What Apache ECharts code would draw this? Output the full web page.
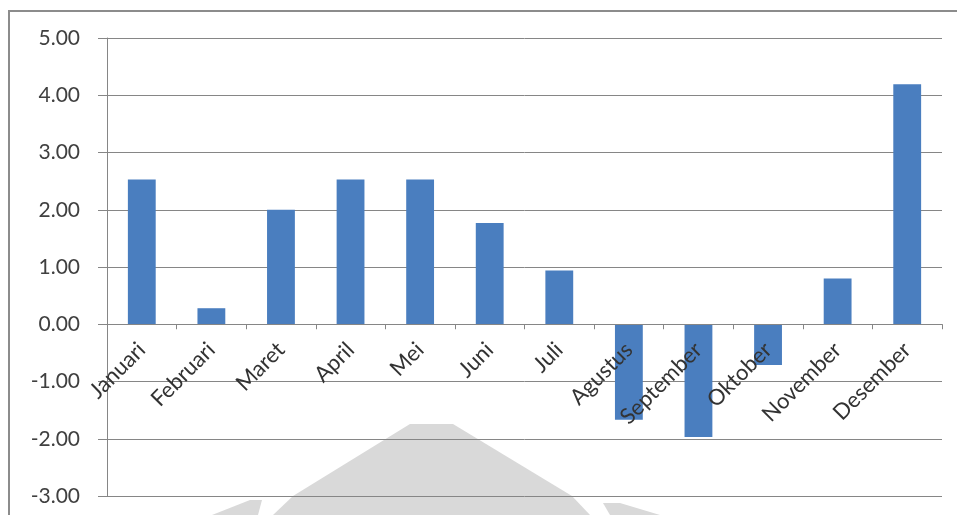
<!DOCTYPE html>
<html>
<head>
<meta charset="utf-8">
<script src="https://cdn.jsdelivr.net/npm/echarts@6/dist/echarts.min.js"></script>
<style>
html,body{margin:0;padding:0;background:#fff;}
#chart{width:957px;height:515px;}
</style>
</head>
<body>
<div id="chart"></div>
<script>
const categories = ['Januari','Februari','Maret','April','Mei','Juni','Juli','Agustus','September','Oktober','November','Desember'];
const values = [2.53, 0.28, 2.00, 2.53, 2.53, 1.77, 0.94, -1.67, -1.97, -0.71, 0.80, 4.19];
const yMin = -3, yMax = 5, yStep = 1;

const GRID_TOP = 38, GRID_BOTTOM = 19, H = 515;
const plotH = H - GRID_TOP - GRID_BOTTOM;
const zeroOffset = plotH * (0 - yMin) / (yMax - yMin);

const chart = echarts.init(document.getElementById('chart'));
chart.setOption({
  animation: false,
  backgroundColor: '#ffffff',
  graphic: [
    { type: 'polygon', z: -10, silent: true,
      shape: { points: [[410,424],[453,424],[572,496],[590,515],[273,515],[293,496]] },
      style: { fill: '#d9d9d9' } },
    { type: 'polygon', z: -10, silent: true,
      shape: { points: [[250,500],[262,500],[258,515],[212,515]] },
      style: { fill: '#d9d9d9' } },
    { type: 'polygon', z: -10, silent: true,
      shape: { points: [[603,503],[620,503],[660,515],[610,515]] },
      style: { fill: '#d9d9d9' } },
    { type: 'rect', z: 100, silent: true,
      shape: { x: 9, y: 11, width: 980, height: 540 },
      style: { fill: 'none', stroke: '#8c8c8c', lineWidth: 2 } }
  ],
  grid: { left: 107, right: 15, top: GRID_TOP, bottom: GRID_BOTTOM, containLabel: false, outerBoundsMode: 'none' },
  xAxis: {
    type: 'category',
    data: categories,
    position: 'bottom',
    offset: -zeroOffset,
    z: 10,
    boundaryGap: true,
    axisLine: { onZero: false, lineStyle: { color: '#868686', width: 1 } },
    axisTick: { show: true, length: 5, alignWithLabel: false, lineStyle: { color: '#868686' } },
    axisLabel: { rotate: 45, margin: 22, fontFamily: 'Lato', fontSize: 22, color: '#333333', interval: 0 },
    splitLine: { show: false }
  },
  yAxis: {
    type: 'value',
    min: yMin, max: yMax, interval: yStep,
    axisLine: { show: true, lineStyle: { color: '#868686', width: 1 } },
    axisTick: { show: true, length: 9, inside: false, lineStyle: { color: '#868686' } },
    axisLabel: { margin: 27, fontFamily: 'Lato', fontSize: 21, color: '#404040',
      formatter: v => v.toFixed(2) },
    splitLine: { show: true, lineStyle: { color: '#868686', width: 1 } }
  },
  series: [{
    type: 'bar',
    data: values,
    barWidth: '40%',
    itemStyle: { color: '#4a7ebf' }
  }]
});
</script>
</body>
</html>
